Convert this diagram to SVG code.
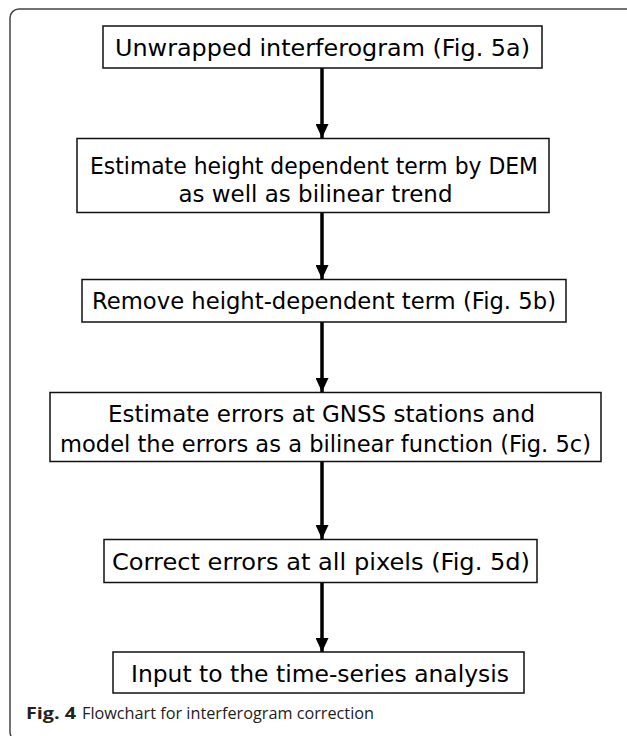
<svg xmlns="http://www.w3.org/2000/svg" width="627" height="736" viewBox="0 0 627 736">
<style>
.box{fill:#fff;stroke:#111;stroke-width:1.5}
.t{font-family:"DejaVu Sans",Verdana,sans-serif;font-size:23px;fill:#000;text-anchor:middle}
.frame{fill:none;stroke:#444;stroke-width:1.5}
.arr{stroke:#000;stroke-width:3.5;fill:none;marker-end:url(#ah)}
.cap{font-family:"Open Sans","Noto Sans",sans-serif;font-size:16px;fill:#222}
</style>
<defs>
<marker id="ah" markerWidth="15" markerHeight="13" refX="14" refY="6.5" orient="auto" markerUnits="userSpaceOnUse">
<path d="M0,0 L14,6.5 L0,13 Z" fill="#000"/>
</marker>
</defs>
<rect class="frame" x="10" y="9" width="640" height="732" rx="9"/>
<g id="connectors">
<line class="arr" x1="322" y1="68" x2="322" y2="138"/>
<line class="arr" x1="322" y1="212.5" x2="322" y2="279"/>
<line class="arr" x1="322" y1="322" x2="322" y2="392"/>
<line class="arr" x1="322" y1="461" x2="322" y2="539"/>
<line class="arr" x1="322" y1="583" x2="322" y2="652"/>
</g>
<g id="n1"><rect class="box" x="103" y="26" width="439" height="42"/><text class="t" x="322.5" y="55.5" textLength="415" lengthAdjust="spacingAndGlyphs">Unwrapped interferogram (Fig. 5a)</text></g>
<g id="n2"><rect class="box" x="77" y="138.5" width="472" height="74"/><text class="t" x="314" y="174" textLength="448" lengthAdjust="spacingAndGlyphs">Estimate height dependent term by DEM</text><text class="t" x="315.5" y="202" textLength="274" lengthAdjust="spacingAndGlyphs">as well as bilinear trend</text></g>
<g id="n3"><rect class="box" x="82" y="279.5" width="484" height="42.5"/><text class="t" x="324" y="309" textLength="464" lengthAdjust="spacingAndGlyphs">Remove height-dependent term (Fig. 5b)</text></g>
<g id="n4"><rect class="box" x="50" y="392.5" width="551" height="69"/><text class="t" x="321.5" y="422" textLength="427" lengthAdjust="spacingAndGlyphs">Estimate errors at GNSS stations and</text><text class="t" x="325.5" y="452" textLength="531" lengthAdjust="spacingAndGlyphs">model the errors as a bilinear function (Fig. 5c)</text></g>
<g id="n5"><rect class="box" x="104" y="539.5" width="433" height="43"/><text class="t" x="321" y="570" textLength="418" lengthAdjust="spacingAndGlyphs">Correct errors at all pixels (Fig. 5d)</text></g>
<g id="n6"><rect class="box" x="113" y="652" width="411" height="41"/><text class="t" x="320" y="682" textLength="378" lengthAdjust="spacingAndGlyphs">Input to the time-series analysis</text></g>
<text class="cap" x="26" y="719"><tspan font-weight="bold" textLength="50" lengthAdjust="spacingAndGlyphs">Fig. 4</tspan><tspan x="82" textLength="292" lengthAdjust="spacingAndGlyphs">Flowchart for interferogram correction</tspan></text>
</svg>
